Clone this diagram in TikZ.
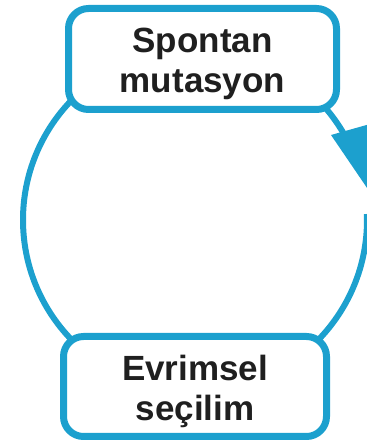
\documentclass[tikz,border=0pt]{standalone}
\usepackage{fontspec}
\setmainfont{Liberation Sans}
\definecolor{cycleblue}{RGB}{28,160,206}
\begin{document}
\begin{tikzpicture}[x=1pt, y=1pt, main/.style = {draw=cycleblue, line width=7pt, fill=white, rounded corners=20pt, align=center, font=\fontsize{35}{40}\selectfont\bfseries, text=black!88, text height=75pt, text depth=7pt}]
        \useasboundingbox (0,0) rectangle (367,445);
        \clip (0,0) rectangle (367,445);
        \coordinate (c) at (195,225);

        % cycle ring and arrow head
        \draw[cycleblue, line width=6pt] (c) ++(2:172) arc[start angle=2, end angle=-330, radius=172];
        \fill[cycleblue] (331,310) -- (395,328) -- (380,238) -- cycle;

        \node[main, minimum width=268pt, minimum height=101pt] (1) at (202.5,386) {Spontan\\mutasyon};
        \node[main, minimum width=263pt, minimum height=100pt] (2) at (195,58.5) {Evrimsel\\seçilim};

    \end{tikzpicture}
\end{document}
